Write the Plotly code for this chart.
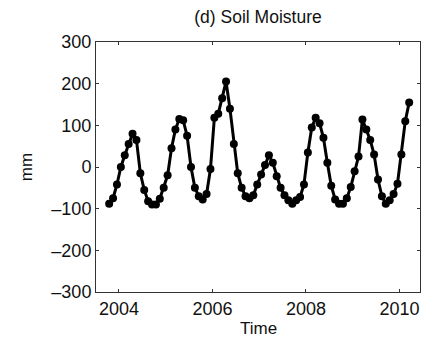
import plotly.graph_objects as go

# Monthly soil-moisture anomaly (mm), Oct 2003 – Mar 2010
start_year = 2003
start_month = 10
soil_moisture = [
    -88, -75, -42, 0, 28, 55, 80, 65, -15, -55, -82, -90,          # Oct03–Sep04
    -90, -76, -50, -20, 45, 90, 115, 112, 75, 0, -50, -70,          # Oct04–Sep05
    -78, -65, -5, 118, 128, 165, 205, 140, 55, -15, -50, -70,       # Oct05–Sep06
    -75, -68, -42, -18, 5, 28, 10, -22, -50, -68, -80, -88,         # Oct06–Sep07
    -80, -72, -42, 35, 95, 118, 105, 70, 10, -45, -78, -88,         # Oct07–Sep08
    -88, -75, -48, -10, 25, 114, 90, 65, 30, -30, -70, -88,         # Oct08–Sep09
    -80, -65, -40, 30, 110, 155,                                    # Oct09–Mar10
]

# decimal-year time stamps at mid-month
time = [start_year + (start_month - 1 + i + 0.5) / 12 for i in range(len(soil_moisture))]

x_ticks = [2004, 2006, 2008, 2010]
y_ticks = [-300, -200, -100, 0, 100, 200, 300]
y_tick_text = [("\u2013" + str(-v)) if v < 0 else str(v) for v in y_ticks]

font_family = "Liberation Sans, Arial, Helvetica, sans-serif"
text_color = "#111111"

fig = go.Figure(
    go.Scatter(
        x=time,
        y=soil_moisture,
        mode="lines+markers",
        line=dict(color="black", width=3),
        marker=dict(color="black", size=8),
    )
)

axis_common = dict(
    showgrid=False,
    zeroline=False,
    showline=True,
    automargin=False,
    linecolor="#333333",
    linewidth=1,
    mirror="ticks",
    ticks="inside",
    ticklen=3,
    tickwidth=1,
    tickcolor="#333333",
    tickfont=dict(family=font_family, size=18, color=text_color),
)

fig.update_xaxes(
    range=[2003.51, 2010.44],
    tickvals=x_ticks,
    ticktext=[str(v) for v in x_ticks],
    **axis_common,
)
fig.update_yaxes(
    range=[-300, 300],
    tickvals=y_ticks,
    ticktext=y_tick_text,
    title=dict(text="mm", font=dict(family=font_family, size=17, color=text_color), standoff=14),
    **axis_common,
)

# x-axis title tucked just under the tick labels
fig.add_annotation(
    text="Time",
    xref="paper", yref="paper",
    x=0.5, y=-0.1,
    xanchor="center", yanchor="top",
    showarrow=False,
    font=dict(family=font_family, size=17, color=text_color),
)

fig.update_layout(
    width=424,
    height=337,
    margin=dict(l=96, r=4, t=42, b=45, autoexpand=False),
    paper_bgcolor="white",
    plot_bgcolor="white",
    showlegend=False,
    title=dict(
        text="(d) Soil Moisture",
        x=258 / 424,
        xanchor="center",
        y=1 - 17 / 337,
        yanchor="middle",
        font=dict(family=font_family, size=17.5, color=text_color),
    ),
)

fig.write_html("out.html")
